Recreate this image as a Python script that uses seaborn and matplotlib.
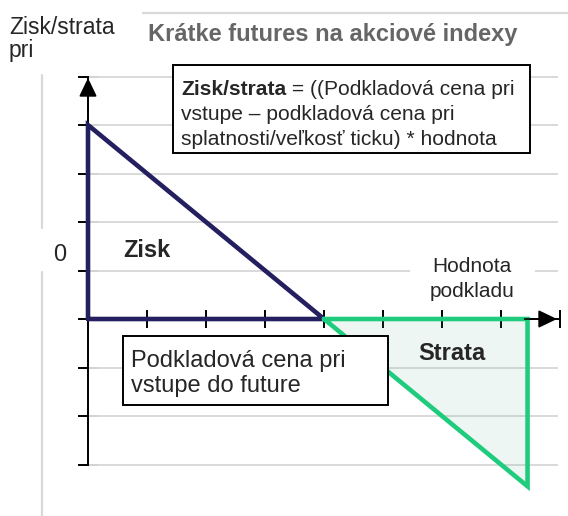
import matplotlib
matplotlib.use("Agg")
import matplotlib.pyplot as plt
from matplotlib.patches import Rectangle
from matplotlib.lines import Line2D
import pandas as pd
import seaborn as sns

# payoff of a short index future (x = underlying in tick steps, y = profit/loss)
profit_x = [0, 0, 4, 0]
profit_y = [0, 4, 0, 0]
loss_x = [4, 7.45, 7.45, 4]
loss_y = [0, 0, -3.45, 0]

grid_levels = [5, 4, 3, 2, 1, -1, -2, -3]
x_ticks = [0, 1, 2, 3, 4, 5, 6, 7, 8]
y_ticks = [-3, -2, -1, 0, 1, 2, 3, 4, 5]

title = "Krátke futures na akciové indexy"
y_label = ["Zisk/strata", "pri"]
x_label = ["Hodnota", "podkladu"]
formula_bold = "Zisk/strata"
formula = [" = ((Podkladová cena pri", "vstupe – podkladová cena pri",
           "splatnosti/veľkosť ticku) * hodnota"]
entry_note = ["Podkladová cena pri", "vstupe do future"]

W, H = 568, 516
NAVY = "#241f5e"
GREEN = "#1fcc7e"
GRID = "#d9d9d9"

sns.set_style("white")
plt.rcParams["font.family"] = ["Liberation Sans", "DejaVu Sans"]

fig = plt.figure(figsize=(W / 100, H / 100), dpi=100)
ax = fig.add_axes([0, 0, 1, 1])


def fx(px):
    return px / W


def fy(py):
    return 1 - py / H


# frame lines of the slide
for x0, y0, x1, y1 in [(42, 75, 42, 228), (42, 272, 42, 516), (143, 13, 568, 13)]:
    fig.add_artist(Line2D([fx(x0), fx(x1)], [fy(y0), fy(y1)], color=GRID, lw=1.6))

ax.hlines(grid_levels, 0, 7.97, color=GRID, lw=1.4, zorder=1)
# white gap behind the x label
ax.add_patch(Rectangle((fx(410), fy(305)), (535 - 410) / W, (305 - 255) / H,
                       transform=fig.transFigure, facecolor="white",
                       edgecolor="none", zorder=1.2))

ax.fill(loss_x, loss_y, color="#5fae8a", alpha=0.1, lw=0, zorder=1.8)

profit = pd.DataFrame({"x": profit_x, "y": profit_y})
loss = pd.DataFrame({"x": loss_x, "y": loss_y})
sns.lineplot(data=profit, x="x", y="y", sort=False, estimator=None, color=NAVY,
             lw=3.3, ax=ax, zorder=3, solid_joinstyle="miter")
sns.lineplot(data=loss, x="x", y="y", sort=False, estimator=None, color=GREEN,
             lw=3.3, ax=ax, zorder=3, solid_joinstyle="miter")

# 1 x unit = 59 px, 1 y unit = 48.5 px, origin at pixel (88, 319)
ax.set_xlim(-88 / 59, (W - 88) / 59)
ax.set_ylim(-(H - 319) / 48.5, 319 / 48.5)
ax.set_xlabel("")
ax.set_ylabel("")

for s in ["top", "right"]:
    ax.spines[s].set_visible(False)
for s in ["left", "bottom"]:
    ax.spines[s].set_position(("data", 0))
    ax.spines[s].set_color("black")
    ax.spines[s].set_linewidth(1.4)
ax.spines["left"].set_bounds(-3, 5)
ax.spines["bottom"].set_bounds(0, 7.97)
ax.set_xticks(x_ticks)
ax.set_yticks(y_ticks)
ax.tick_params(axis="x", direction="inout", length=13, width=1.4, color="black",
               bottom=True, labelbottom=False)
ax.tick_params(axis="y", direction="inout", length=14.4, width=1.4, color="black",
               left=True, labelleft=False)

head = "-|>,head_length=1.15,head_width=0.55"
ax.annotate("", xy=(0, 4.97), xytext=(0, 4.3),
            arrowprops=dict(arrowstyle=head, color="black", lw=1.2, shrinkA=0, shrinkB=0))
ax.annotate("", xy=(7.95, 0), xytext=(7.4, 0),
            arrowprops=dict(arrowstyle=head, color="black", lw=1.2, shrinkA=0, shrinkB=0))

# boxes
for x0, y0, x1, y1 in [(173, 65, 530, 153), (123, 336, 388, 405)]:
    ax.add_patch(Rectangle((fx(x0), fy(y1)), (x1 - x0) / W, (y1 - y0) / H,
                           transform=fig.transFigure, facecolor="white",
                           edgecolor="black", lw=1.4, zorder=4))

# texts
fig.text(fx(9), fy(34), y_label[0], fontsize=16.5, va="baseline")
fig.text(fx(9), fy(57), y_label[1], fontsize=16.5, va="baseline")
fig.text(fx(148), fy(41), title, fontsize=17, fontweight="bold", color="#666666",
         va="baseline")
fig.text(fx(60), fy(261), "0", fontsize=17, ha="center", va="baseline")
fig.text(fx(123), fy(257), "Zisk", fontsize=17, fontweight="bold", va="baseline")
fig.text(fx(418), fy(360), "Strata", fontsize=17, fontweight="bold", va="baseline")
fig.text(fx(472), fy(272), x_label[0], fontsize=15, ha="center", va="baseline")
fig.text(fx(472), fy(297), x_label[1], fontsize=15, ha="center", va="baseline")

t = fig.text(fx(181), fy(95), formula_bold, fontsize=15.1, fontweight="bold",
             va="baseline", zorder=5)
ax.annotate(formula[0], xy=(1, 0), xycoords=t, va="bottom", fontsize=15.1,
            zorder=5, annotation_clip=False)
fig.text(fx(181), fy(120), formula[1], fontsize=15.1, va="baseline", zorder=5)
fig.text(fx(181), fy(145), formula[2], fontsize=15.1, va="baseline", zorder=5)

fig.text(fx(131), fy(367), entry_note[0], fontsize=17, va="baseline", zorder=5)
fig.text(fx(131), fy(392), entry_note[1], fontsize=17, va="baseline", zorder=5)

fig.savefig("out.png", dpi=100)
